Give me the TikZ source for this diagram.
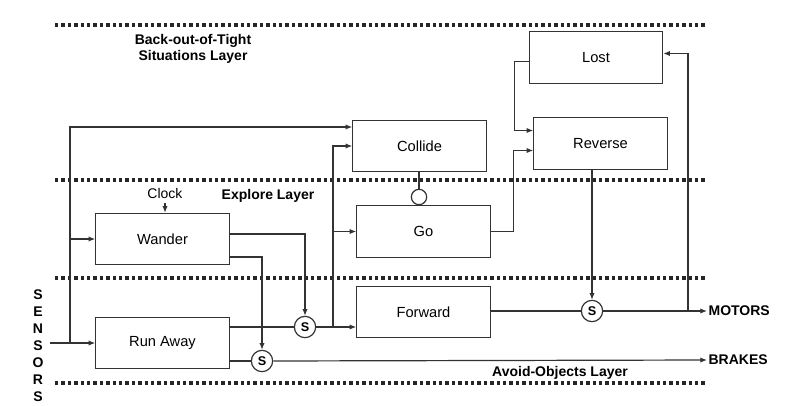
\documentclass[tikz,border=0pt]{standalone}
\usepackage{fontspec}
\setmainfont{Liberation Sans}
\usetikzlibrary{arrows.meta,calc}
\begin{document}
\begin{tikzpicture}[x=0.75pt,y=-0.75pt,
  lw/.style={line width=0.9pt, draw=black!80},
  blk/.style={lw, rectangle, minimum width=100pt, minimum height=38.5pt, font=\fontsize{11}{12}\selectfont, inner sep=0pt},
  sup/.style={lw, circle, minimum size=16pt, inner sep=0pt, font=\bfseries\fontsize{9.5}{11}\selectfont},
  inh/.style={lw, circle, minimum size=11.5pt, inner sep=0pt, fill=white},
  arr/.style={lw, -{Latex[length=5pt,width=4pt]}},
  ln/.style={lw},
  layer/.style={font=\bfseries\fontsize{10.5}{12.5}\selectfont, align=center},
  outl/.style={font=\bfseries\fontsize{10.5}{12}\selectfont, anchor=west, inner sep=1pt},
  dotline/.style={line width=2.5pt, dash pattern=on 2.5pt off 2.3pt, black!85}]
\useasboundingbox (0,0) rectangle (788,406);
% layer separators
\draw[dotline] (55,25) -- (705,25);
\draw[dotline] (55,180) -- (705,180);
\draw[dotline] (55,278) -- (705,278);
\draw[dotline] (55,383) -- (705,383);
% labels
\node[layer] (l1) at (193,49) {Back-out-of-Tight\\Situations Layer};
\node[layer] (l2) at (268,196) {Explore Layer};
\node[layer] (l3) at (560,373) {Avoid-Objects Layer};
\node[font=\bfseries\fontsize{10.5}{12.75}\selectfont, align=center] (sens) at (38,346) {S\\E\\N\\S\\O\\R\\S};
% blocks
\node[blk] (lost) at (596,57.5) {Lost};
\node[blk] (reverse) at (600.5,143.5) {Reverse};
\node[blk] (collide) at (419.5,146) {Collide};
\node[blk] (go) at (423.5,231.5) {Go};
\node[blk] (wander) at (162.5,239) {Wander};
\node[blk] (forward) at (423.5,312) {Forward};
\node[blk] (runaway) at (162.5,343) {Run Away};
\node[font=\fontsize{10.5}{12}\selectfont] (clock) at (165,193) {Clock};
% suppressors and inhibitor
\node[sup] (s1) at (305,327) {S};
\node[sup] (s2) at (262,361) {S};
\node[sup] (s3) at (592,311) {S};
\node[inh] (inh) at (419,197) {};
% outputs
\node[outl] (motors) at (707,311) {MOTORS};
\node[outl] (brakes) at (707,360) {BRAKES};
% coordinates
\coordinate (sin) at (50,343);
\coordinate (j1) at (70,343);
\coordinate (j2) at (333,327);
\coordinate (j3) at (688,311);
% sensor connections
\draw[arr] (sin) -- (runaway.west |- sin);
\draw[arr] (j1) |- ($(collide.west)+(0,-19)$);
\draw[arr] (j1 |- wander.west) -- (wander.west);
\draw[arr] (clock.south) -- (wander.north -| clock);
% wander outputs
\draw[arr] ($(wander.east)+(0,-5)$) -| (s1.north);
\draw[arr] ($(wander.east)+(0,18)$) -| (s2.north);
% run away outputs
\draw[ln] (runaway.east |- s1) -- (s1.west);
\draw[ln] (runaway.east |- s2) -- (s2.west);
% s1 to forward, collide, go
\draw[arr] (s1.east) -- (forward.west |- s1);
\draw[arr] (j2) |- (collide.west);
\draw[arr] (j2 |- go.west) -- (go.west);
% collide inhibits go
\draw[ln] (collide.south -| inh) -- (inh.north);
% s2 to brakes
\draw[arr] (s2.east) -- (brakes.west);
% forward to s3 to motors
\draw[ln] (forward.east |- s3) -- (s3.west);
\draw[arr] (s3.east) -- (motors.west);
\draw[arr] (j3) |- ($(lost.east)+(0,-4)$);
% reverse to s3
\draw[arr] (reverse.south -| s3) -- (s3.north);
% lost to reverse, go to reverse
\draw[arr] ($(lost.west)+(0,4)$) -- ++(-14,0) |- ($(reverse.west)+(0,-13)$);
\draw[arr] (go.east) -- ++(23,0) |- ($(reverse.west)+(0,7)$);
\end{tikzpicture}
\end{document}
